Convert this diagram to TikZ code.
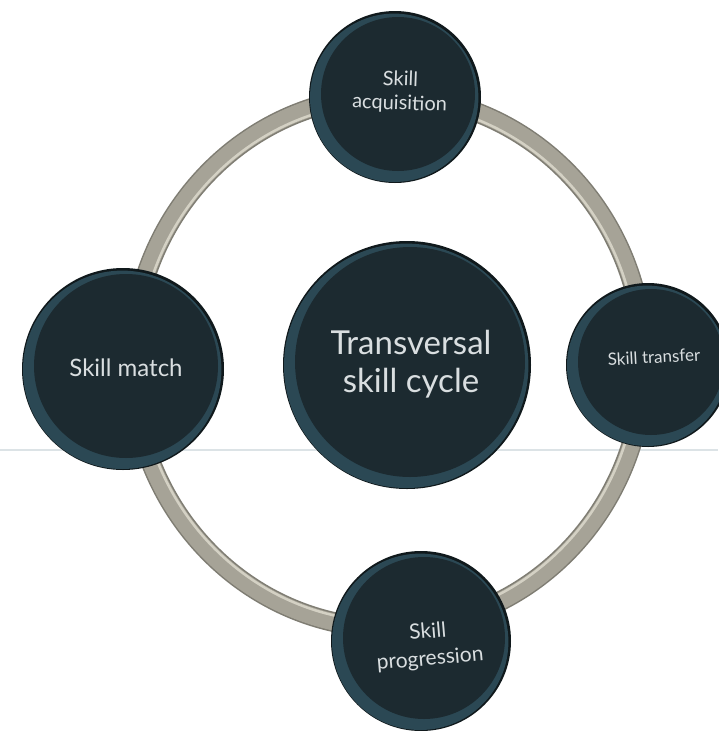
\documentclass[tikz,border=0pt]{standalone}
\usepackage{fontspec}
\setmainfont{Lato}
\definecolor{facec}{HTML}{1C2A30}
\definecolor{rimc}{HTML}{2B4854}
\definecolor{edgec}{HTML}{10191C}
\definecolor{ringc}{HTML}{A6A397}
\definecolor{ringdark}{HTML}{7F7D73}
\definecolor{ringlight}{HTML}{D4D1C4}
\definecolor{txtc}{HTML}{D9DEE0}
\definecolor{linec}{HTML}{DCE3E6}
\newcommand\mydisc[3]{%
  \fill[edgec] (#1,#2) circle [radius=#3];
  \fill[rimc] (#1-0.8,#2+0.8) circle [radius=#3-1.8];
  \fill[facec] (#1+3,#2-3) circle [radius=#3-9];
}
\begin{document}
\begin{tikzpicture}[x=1pt,y=-1pt,
  disctext/.style={align=center,text=txtc,inner sep=0pt}]
\useasboundingbox (0,0) rectangle (718,731);
\fill[white] (0,0) rectangle (718,731);
\draw[linec, line width=1.5pt] (0,450) -- (718,450);
% ring
\draw[ringdark, line width=20pt] (388,362) ellipse [x radius=256, y radius=266];
\draw[ringc, line width=17pt] (388,362) ellipse [x radius=256, y radius=266];
\draw[ringlight, line width=2.5pt] (388,362) ellipse [x radius=249.5, y radius=259.5];
% discs
\mydisc{395}{97}{86}
\mydisc{648}{365}{82}
\mydisc{421}{641}{90}
\mydisc{123}{369}{101}
\mydisc{407}{365}{124}
% labels
\node[disctext, font=\fontsize{33}{38}\selectfont] (cycle) at (411,364) {Transversal\\skill cycle};
\node[disctext, font=\fontsize{24}{28}\selectfont] (match) at (126,368) {Skill match};
\node[disctext, font=\fontsize{17}{20}\selectfont, rotate=3] (transfer) at (654,357) {Skill transfer};
\node[disctext, font=\fontsize{20}{24}\selectfont, rotate=-2] (acq) at (400,92) {Skill\\acquisition};
\node[disctext, font=\fontsize{21}{27}\selectfont, rotate=5] (prog) at (429,646) {Skill\\progression};
\end{tikzpicture}
\end{document}
